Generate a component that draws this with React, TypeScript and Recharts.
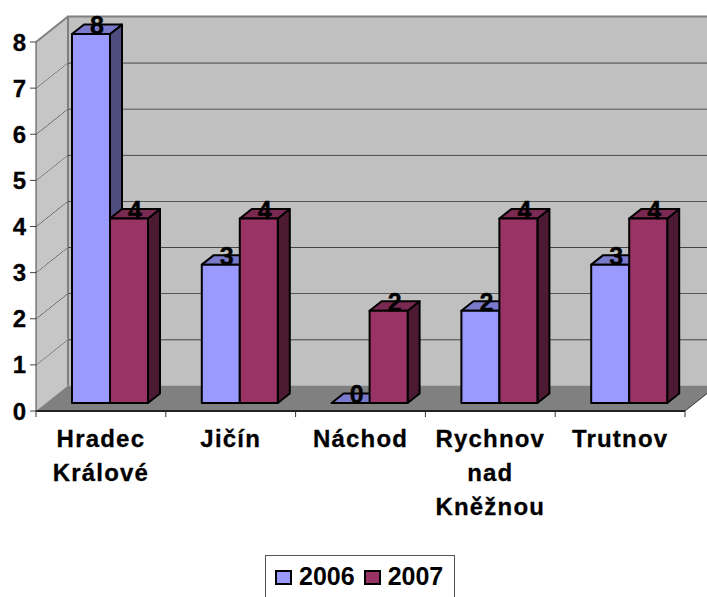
import { Bar, BarChart, LabelList, Legend, ReferenceArea, XAxis, YAxis } from 'recharts';

const categories = ['Hradec Králové', 'Jičín', 'Náchod', 'Rychnov nad Kněžnou', 'Trutnov'];
const values2006 = [8, 3, 0, 2, 3];
const values2007 = [4, 4, 2, 4, 4];
const yTicks = [0, 1, 2, 3, 4, 5, 6, 7, 8];
const bands = [0, 1, 2, 3, 4, 5, 6, 7];

const data = categories.map((name, i) => ({ name, y2006: values2006[i], y2007: values2007[i] }));

const FONT = '"Liberation Sans", Arial, sans-serif';
// fake 3d offsets
const WALL_DX = 32;
const WALL_DY = 25.5;
const BAR_DX = 9;
const BAR_DY = 8;
const DEPTH_X = 12;
const DEPTH_Y = 9.5;
const BAND = 129.8;

function WallBand(props: any) {
  const { x, y, width, height, band } = props;
  const bottom = y + height;
  return (
    <g>
      <rect x={x + WALL_DX} y={y - WALL_DY} width={width} height={height} fill="#c0c0c0" />
      <polygon
        points={`${x},${y} ${x + WALL_DX},${y - WALL_DY} ${x + WALL_DX},${bottom - WALL_DY} ${x},${bottom}`}
        fill="#c6c6c6"
      />
      <line x1={x + WALL_DX} x2={x + WALL_DX} y1={y - WALL_DY} y2={bottom - WALL_DY} stroke="#808080" strokeWidth={2} />
      {band === 7 ? (
        <>
          <line x1={x + WALL_DX - 1} x2={x + WALL_DX + width} y1={y - WALL_DY} y2={y - WALL_DY} stroke="#808080" strokeWidth={2} />
          <line x1={x} x2={x + WALL_DX} y1={y} y2={y - WALL_DY} stroke="#808080" strokeWidth={2} />
        </>
      ) : (
        <>
          <line x1={x + WALL_DX} x2={x + WALL_DX + width} y1={y - WALL_DY} y2={y - WALL_DY} stroke="#333" strokeWidth={1.5} />
          <line x1={x} x2={x + WALL_DX} y1={y} y2={y - WALL_DY} stroke="#222" strokeWidth={1} />
        </>
      )}
      {band === 0 && (
        <>
          <polygon
            points={`${x},${bottom} ${x + WALL_DX},${bottom - WALL_DY} ${x + width + WALL_DX},${bottom - WALL_DY} ${x + width},${bottom}`}
            fill="#808080"
          />
          <line x1={x + width} x2={x + width + WALL_DX} y1={bottom} y2={bottom - WALL_DY} stroke="#333" strokeWidth={1} />
        </>
      )}
    </g>
  );
}

function prism(topFill: string, sideFill: string) {
  return function Prism(props: any) {
    const { x, y, width, height, fill } = props;
    const l = x + BAR_DX;
    const t = y - BAR_DY;
    const r = l + width;
    const b = t + height;
    return (
      <g stroke="#000" strokeWidth={2} strokeLinejoin="round">
        <polygon points={`${r},${t} ${r + DEPTH_X},${t - DEPTH_Y} ${r + DEPTH_X},${b - DEPTH_Y} ${r},${b}`} fill={sideFill} />
        <polygon points={`${l},${t} ${l + DEPTH_X},${t - DEPTH_Y} ${r + DEPTH_X},${t - DEPTH_Y} ${r},${t}`} fill={topFill} />
        <rect x={l} y={t} width={width} height={height} fill={fill} />
      </g>
    );
  };
}

function ValueLabel(props: any) {
  const { x, y, width, value } = props;
  return (
    <text
      x={x + BAR_DX + width / 2 + 6}
      y={y - BAR_DY}
      textAnchor="middle"
      fontFamily={FONT}
      fontWeight="bold"
      fontSize={25}
      fill="#000"
      stroke="#000"
      strokeWidth={0.4}
    >
      {value}
    </text>
  );
}

function CategoryTick(props: any) {
  const { x, y, payload, index } = props;
  const lines = String(payload.value).split(' ');
  const left = x - BAND / 2;
  return (
    <g>
      <line x1={left} x2={left} y1={y} y2={y + 6} stroke="#333" />
      {index === categories.length - 1 && <line x1={left + BAND} x2={left + BAND} y1={y} y2={y + 6} stroke="#333" />}
      <text
        textAnchor="middle"
        fontFamily={FONT}
        fontWeight="bold"
        fontSize={24}
        letterSpacing={1.2}
        fill="#000"
        stroke="#000"
        strokeWidth={0.3}
      >
        {lines.map((line, i) => (
          <tspan key={line} x={x} y={y + 36 + i * 34}>
            {line}
          </tspan>
        ))}
      </text>
    </g>
  );
}

function LegendBox({ payload }: any) {
  return (
    <div
      style={{
        boxSizing: 'border-box',
        width: 190,
        height: 60,
        border: '1px solid #555',
        background: '#fff',
        display: 'flex',
        alignItems: 'flex-start',
        paddingTop: 6,
        paddingLeft: 9,
        fontFamily: FONT,
        fontWeight: 'bold',
        fontSize: 25,
        lineHeight: '29px',
        color: '#000',
      }}
    >
      {(payload || []).map((item: any) => (
        <span key={item.value} style={{ display: 'flex', alignItems: 'center', marginRight: 9 }}>
          <span
            style={{
              boxSizing: 'border-box',
              width: 17,
              height: 15,
              border: '2px solid #000',
              background: item.color,
              marginRight: 7,
              marginTop: 2,
            }}
          />
          {item.value}
        </span>
      ))}
    </div>
  );
}

export default function App() {
  return (
    <div style={{ position: 'fixed', left: 0, top: 0, width: 707, height: 597, overflow: 'hidden', background: '#fff' }}>
      <BarChart
        width={707}
        height={597}
        data={data}
        margin={{ left: 0, right: 22, top: 42, bottom: 126 }}
        barGap={0}
        barSize={38}
      >
        {bands.map((band) => (
          <ReferenceArea
            key={band}
            y1={band}
            y2={band + 1}
            ifOverflow="visible"
            shape={(p: any) => <WallBand {...p} band={band} />}
          />
        ))}
        <XAxis
          dataKey="name"
          interval={0}
          height={60}
          tickLine={false}
          tickSize={0}
          tickMargin={0}
          axisLine={{ stroke: '#222', strokeWidth: 2 }}
          tick={<CategoryTick />}
        />
        <YAxis
          width={36}
          domain={[0, 8]}
          ticks={yTicks}
          interval={0}
          tickSize={6}
          tickMargin={4}
          axisLine={{ stroke: '#444' }}
          tickLine={{ stroke: '#444' }}
          tick={{ fontFamily: FONT, fontWeight: 'bold', fontSize: 24, fill: '#000', stroke: '#000', strokeWidth: 0.3 }}
        />
        <Legend
          layout="horizontal"
          verticalAlign="middle"
          align="center"
          content={<LegendBox />}
          wrapperStyle={{ position: 'absolute', left: 265, top: 555, width: 190, height: 60 }}
        />
        <Bar dataKey="y2006" name="2006" fill="#9999ff" isAnimationActive={false} shape={prism('#7a7acc', '#4d4d80')}>
          <LabelList dataKey="y2006" content={<ValueLabel />} />
        </Bar>
        <Bar dataKey="y2007" name="2007" fill="#993366" isAnimationActive={false} shape={prism('#7a2952', '#4d1a33')}>
          <LabelList dataKey="y2007" content={<ValueLabel />} />
        </Bar>
      </BarChart>
    </div>
  );
}
